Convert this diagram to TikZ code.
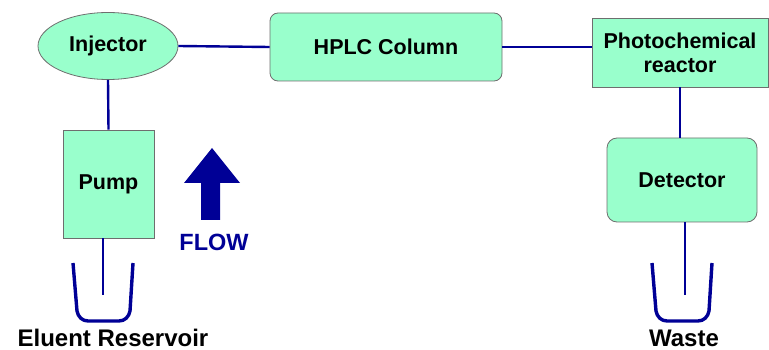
\documentclass[tikz,border=0pt]{standalone}
\usepackage{fontspec}
\setmainfont{Liberation Sans}
\usetikzlibrary{shapes.geometric}
\definecolor{unitfill}{RGB}{153,255,204}
\definecolor{unitdraw}{RGB}{110,110,110}
\definecolor{tubeblue}{RGB}{0,0,150}
\begin{document}
\begin{tikzpicture}[x=1pt,y=-1pt,
    unit/.style={draw=unitdraw,fill=unitfill,line width=0.8pt,inner sep=0pt,
      align=center,font=\fontsize{21.5}{24}\selectfont\bfseries},
    tube/.style={tubeblue,line width=2.4pt},
    vessel/.style={tubeblue,line width=3.4pt,line join=round},
    caption/.style={anchor=base,inner sep=0pt,font=\fontsize{24}{28}\selectfont\bfseries}]
    \useasboundingbox (0,0) rectangle (769,350);
    % units
    \node[unit,ellipse,minimum width=140,minimum height=67] (injector) at (108,46) {Injector};
    \node[unit,rounded corners=8,minimum width=232,minimum height=68] (hplc) at (386,47) {HPLC Column};
    \node[unit,minimum width=176,minimum height=69] (photo) at (680,52.5) {Photochemical\\reactor};
    \node[unit,minimum width=91,minimum height=108] (pump) at (108.5,184) {Pump};
    \node[unit,rounded corners=10,minimum width=150,minimum height=84] (detector) at (682,180) {Detector};
    \coordinate (pumpend) at (103,295);
    \coordinate (detend) at (685,295);
    % tubing
    \draw[tube] (injector.east) -- (hplc.west);
    \draw[tube] (hplc.east) -- (hplc.east -| photo.west);
    \draw[tube] (injector.south) -- (pump.north);
    \draw[tube] (pump.south -| pumpend) -- (pumpend);
    \draw[tube] (photo.south) -- (photo.south |- detector.north);
    \draw[tube] (detector.south -| detend) -- (detend);
    % vessels
    \draw[vessel] (73,263) -- (77,311) to[out=-80,in=180] (88,321) -- (119,321)
      to[out=0,in=-100] (130,311) -- (133,263);
    \draw[vessel] (652,263) -- (656,311) to[out=-80,in=180] (667,321) -- (698,321)
      to[out=0,in=-100] (709,311) -- (712,263);
    \node[caption] (eluent) at (113,346) {Eluent Reservoir};
    \node[caption] (waste) at (684,346) {Waste};
    % flow arrow
    \fill[tubeblue] (201,220) -- (201,183) -- (184,183) -- (212,148) -- (240,183)
      -- (220,183) -- (220,220) -- cycle;
    \node[font=\fontsize{23.5}{27}\selectfont\bfseries,text=tubeblue] (flow) at (214,242) {FLOW};
\end{tikzpicture}
\end{document}
